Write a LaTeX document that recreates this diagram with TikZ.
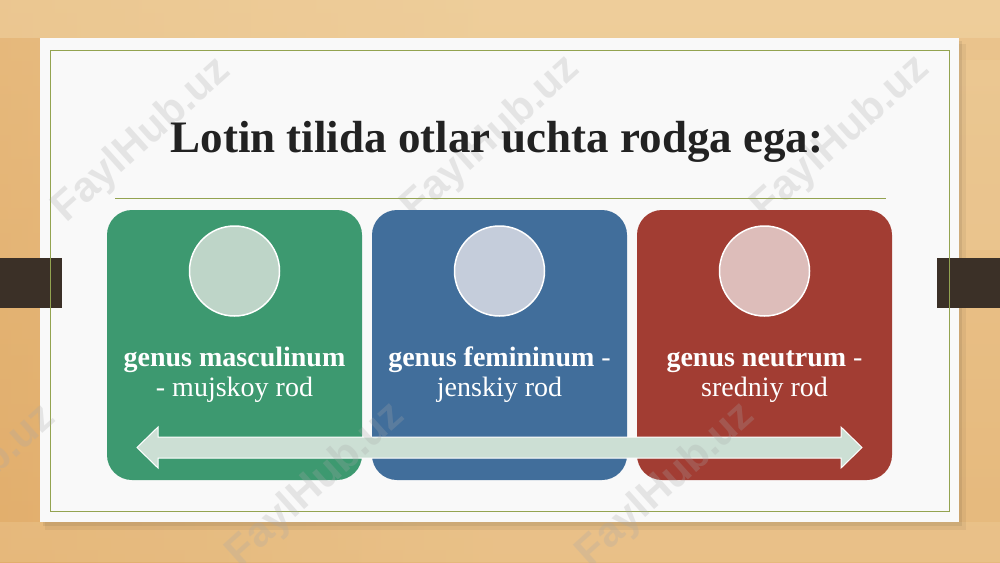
\documentclass[tikz,border=0pt]{standalone}
\usepackage{fontspec}
\setmainfont{Liberation Serif}
\newfontfamily\wmfont{Liberation Sans}
\definecolor{woodA}{HTML}{E2AE6C}
\definecolor{woodB}{HTML}{EBC58E}
\definecolor{woodC}{HTML}{F2D8AA}
\definecolor{slidebg}{HTML}{F9F9F9}
\definecolor{olivec}{HTML}{93A350}
\definecolor{tabc}{HTML}{3B3027}
\definecolor{boxgreen}{HTML}{3D9970}
\definecolor{boxblue}{HTML}{416E9B}
\definecolor{boxred}{HTML}{A23D33}
\definecolor{circgreen}{HTML}{BED5C8}
\definecolor{circblue}{HTML}{C5CDDB}
\definecolor{circred}{HTML}{DDBDBA}
\definecolor{arrowc}{HTML}{CCDFD4}
\definecolor{titlec}{HTML}{222222}
\definecolor{wmc}{HTML}{A8A8A8}
\begin{document}
\begin{tikzpicture}[x=1pt,y=-1pt,
  titlestyle/.style={font=\fontsize{45}{54}\selectfont\bfseries, text=titlec, anchor=base, inner sep=0},
  genbox/.style={rounded corners=25, minimum width=255, minimum height=270, inner sep=0, draw=none},
  circ/.style={circle, minimum size=90, inner sep=0, draw=white, line width=1.5},
  lbl/.style={font=\fontsize{28}{30}\selectfont, text=white, align=center, inner sep=0, anchor=center},
  wm/.style={font=\wmfont\fontsize{42}{42}\selectfont\bfseries, text=wmc, text opacity=0.25, rotate=42, inner sep=0}
]
\useasboundingbox (0,0) rectangle (1000,562);
% wood background
\shade[left color=woodA, right color=woodB, middle color=woodB] (0,0) rectangle (1000,562);
\shade[top color=woodB, bottom color=woodA, opacity=0.5] (0,0) rectangle (1000,562);
\fill[woodC, opacity=0.45] (0,0) rectangle (1000,38);
\fill[woodC, opacity=0.25] (0,522) rectangle (1000,562);
\fill[woodC, opacity=0.2] (959,60) rectangle (1000,250);
\fill[woodA, opacity=0.2] (0,300) rectangle (40,440);
% slide shadow
\fill[black, opacity=0.05] (45,44) rectangle (966,530);
\fill[black, opacity=0.07] (43,41) rectangle (962,526);
% slide
\fill[slidebg] (40,38) rectangle (959,522);
% tabs
\fill[tabc] (0,258) rectangle (62,308);
\fill[tabc] (937,258) rectangle (1000,308);
% border
\draw[olivec, line width=1] (50,50) rectangle (949,511);
% watermarks (behind content on the slide)
\node[wm] (w1) at (142,140) {FaylHub.uz};
\node[wm] (w2) at (491,138) {FaylHub.uz};
\node[wm] (w3) at (841,138) {FaylHub.uz};
% title
\node[titlestyle] (title) at (497,152) {Lotin tilida otlar uchta rodga ega:};
\coordinate (ruleL) at (115,198);
\coordinate (ruleR) at (886,198);
\draw[olivec, line width=0.9] (ruleL) -- (ruleR);
% boxes
\node[genbox, fill=boxgreen] (b1) at (234.5,345) {};
\node[genbox, fill=boxblue]  (b2) at (499.5,345) {};
\node[genbox, fill=boxred]   (b3) at (764.5,345) {};
% circles
\node[circ, fill=circgreen] (c1) at (234.5,271) {};
\node[circ, fill=circblue]  (c2) at (499.5,271) {};
\node[circ, fill=circred]   (c3) at (764.5,271) {};
% labels
\node[lbl] (t1) at (234.5,375) {\strut\textbf{genus masculinum}\\- mujskoy rod\strut};
\node[lbl] (t2) at (499.5,375) {\strut\textbf{genus femininum} -\\jenskiy rod\strut};
\node[lbl] (t3) at (764.5,375) {\strut\textbf{genus neutrum} -\\sredniy rod\strut};
% double arrow
\fill[arrowc, draw=white, line width=1]
  (137,447.5) -- (158,427) -- (158,437) -- (841,437) -- (841,427) -- (862,447.5)
  -- (841,468) -- (841,458) -- (158,458) -- (158,468) -- cycle;
% lower watermarks
\node[wm] (w4) at (-33,487) {FaylHub.uz};
\node[wm] (w5) at (316,485) {FaylHub.uz};
\node[wm] (w6) at (666,485) {FaylHub.uz};
\end{tikzpicture}
\end{document}
